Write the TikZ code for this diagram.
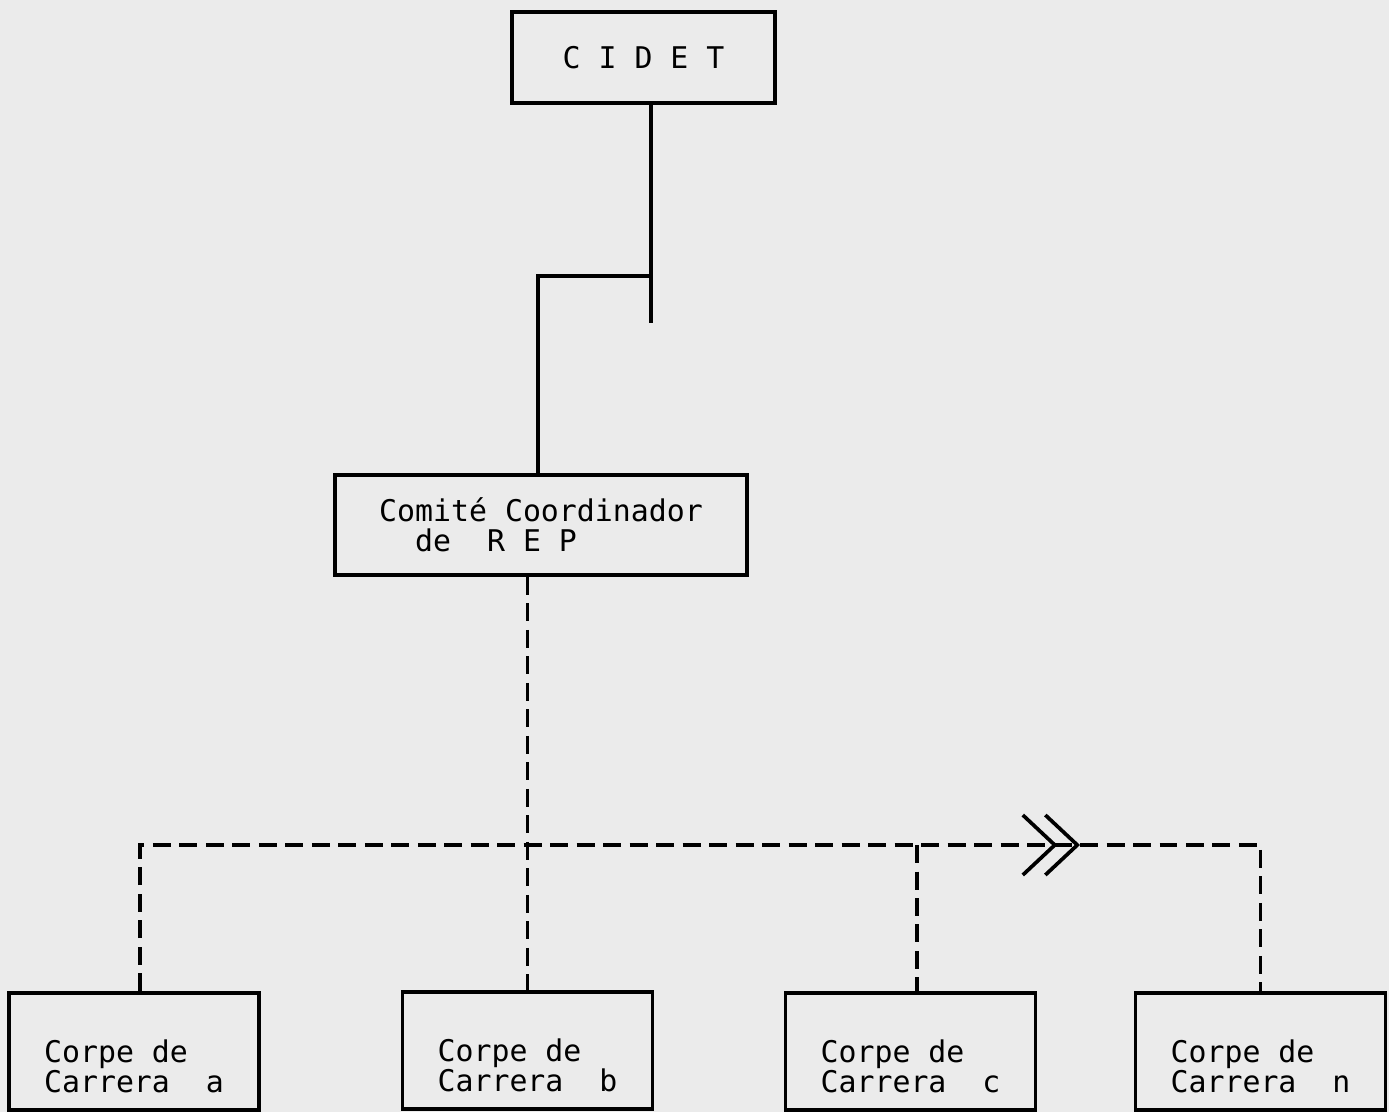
\documentclass[tikz,border=0pt]{standalone}
\usepackage{fontspec}
\setmonofont{DejaVu Sans Mono}
\usetikzlibrary{arrows.meta}
\definecolor{paper}{HTML}{EBEBEB}
\newcommand{\corpetext}[1]{\rule{0pt}{30pt}Corpe de\\Carrera~~#1}

\begin{document}
\begin{tikzpicture}[
  x=0.02cm, y=-0.02cm,
  box/.style={draw, line width=2.1pt, align=left, inner sep=0pt,
              font=\ttfamily\fontsize{17}{17}\selectfont},
  corpe/.style={box, minimum width=5cm, minimum height=2.34cm},
  solidline/.style={line width=2.1pt},
  dashline/.style={line width=2.1pt, dash pattern=on 0.36cm off 0.17cm},
  dbl/.style={-{Straight Barb[length=0.64cm,width=1.2cm,sep=-0.28cm]
                Straight Barb[length=0.64cm,width=1.2cm]}}
]
  \fill[paper] (0,0) rectangle (1389,1112);
  \useasboundingbox (0,0) rectangle (1389,1112);

  % CIDET -> Comite
  \node[box, minimum width=5.26cm, minimum height=1.82cm] (cidet) at (643.5,57.5) {C~I~D~E~T};
  \node[box, minimum width=8.24cm, minimum height=2cm] (comite) at (541,525)
    {Comité Coordinador\\\mbox{}~~de~~R~E~P};

  \coordinate (stub) at (651,323);
  \coordinate (knee) at (538,276);

  \draw[solidline] (cidet.south -| stub) -- (stub);
  \draw[solidline] (knee -| stub) -- (knee) -- (comite.north -| knee);

  % Corpes de Carrera
  \node[corpe] (corpea) at (134,1051.5) {\corpetext{a}};
  \node[corpe] (corpeb) at (527.5,1050.5) {\corpetext{b}};
  \node[corpe] (corpec) at (910.5,1051.5) {\corpetext{c}};
  \node[corpe] (corpen) at (1260.5,1051.5) {\corpetext{n}};

  \coordinate (tip) at (1080,845);

  \draw[dashline] (comite.south -| corpeb.north) -- (corpeb.north);
  \draw[dashline, dbl] ([xshift=0.12cm]corpea.north) |- (tip);
  \draw[dashline] (tip) -| (corpen.north);
  \draw[dashline] ([xshift=0.13cm]corpec.north |- tip) -- ([xshift=0.13cm]corpec.north);
\end{tikzpicture}
\end{document}
